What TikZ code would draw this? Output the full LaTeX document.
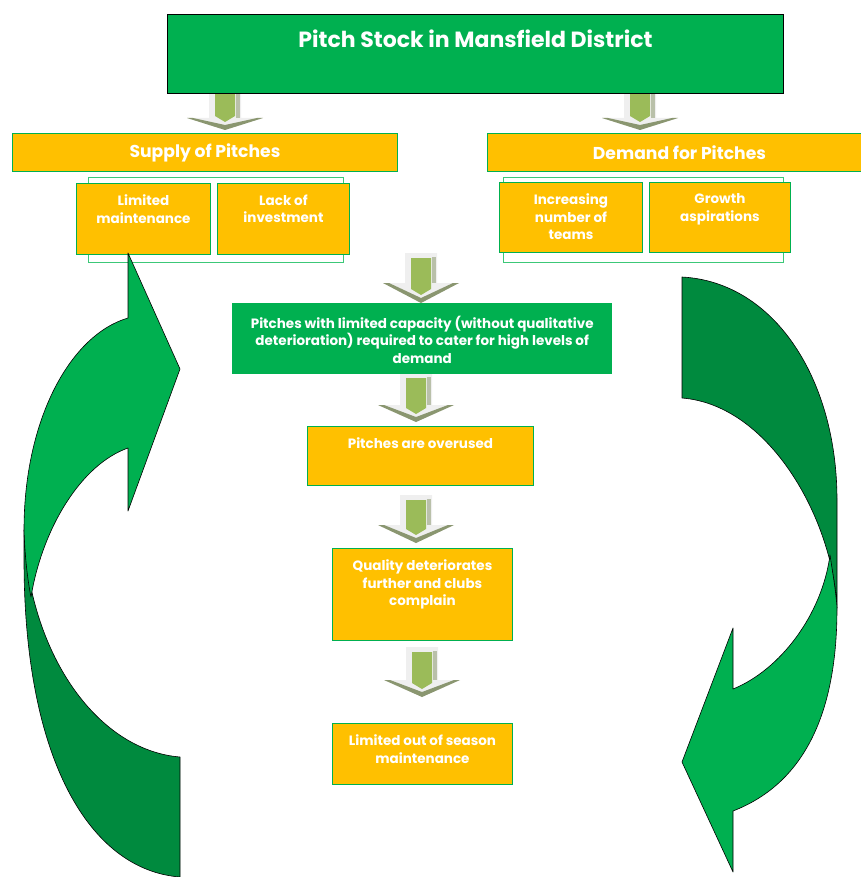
\documentclass[tikz,border=0pt]{standalone}
\usepackage{fontspec}
\setmainfont{Poppins}

\definecolor{pitchgreen}{HTML}{00B050}
\definecolor{darkgreen}{HTML}{008A3E}
\definecolor{pitchorange}{HTML}{FFC000}
\definecolor{framegreen}{HTML}{3CC878}
\definecolor{shaftgreen}{HTML}{9BBB59}
\definecolor{shadeolive}{HTML}{8A9670}
\definecolor{arrowgrey}{HTML}{EFEFEF}

\tikzset{
  orangebox/.style={draw=pitchgreen, line width=0.9pt, fill=pitchorange, anchor=north west, inner sep=0pt},
  greenbox/.style={fill=pitchgreen, anchor=north west, inner sep=0pt},
  groupframe/.style={draw=framegreen, line width=0.9pt, fill=white, anchor=north west, inner sep=0pt},
  boxtext/.style={anchor=north, inner sep=0pt, yshift=-11.5pt, text=white, align=center,
    font=\bfseries\fontsize{13.5}{17.5}\selectfont},
  headtext/.style={text=white, font=\bfseries\fontsize{17.2}{20}\selectfont},
  curvearrow/.style={draw=black, line width=0.6pt, line join=round},
}

\begin{document}
\begin{tikzpicture}[x=1pt,y=-1pt]
\useasboundingbox (0,0) rectangle (860,877);

% block arrows down the chain
\foreach \cx/\ya/\yh/\yb in {225/80/118/130, 640/80/118/130, 421/253/283/303,
                            416/373/405/422, 416/495/525/543, 422/647/680/697} {
  \fill[arrowgrey] (\cx-16,\ya) -- (\cx+16,\ya) -- (\cx+16,\yh) -- (\cx+38,\yh)
    -- (\cx,\yb) -- (\cx-38,\yh) -- (\cx-16,\yh) -- cycle;
  \fill[shadeolive] (\cx-38,\yh) -- (\cx,\yb) -- (\cx+38,\yh) -- (\cx+32,\yh)
    -- (\cx,\yb-5) -- (\cx-32,\yh) -- cycle;
  \fill[shadeolive!60] (\cx+11,\ya+4) rectangle (\cx+15,\yh);
  \fill[shaftgreen] (\cx-10,\ya+5) -- (\cx+10,\ya+5) -- (\cx+10,\yb-14)
    -- (\cx,\yb-8) -- (\cx-10,\yb-14) -- cycle;
}

% top
\node[greenbox, draw=black, line width=0.9pt, minimum width=616pt, minimum height=79pt,
  label={[boxtext, yshift=-4.5pt, font=\bfseries\fontsize{22}{26}\selectfont]north:Pitch Stock in Mansfield District}]
  (stock) at (167,14) {};

% supply side
\node[orangebox, minimum width=385pt, minimum height=38pt, headtext] (supply) at (12,133) {Supply of Pitches};
\node[groupframe, minimum width=255pt, minimum height=85pt] (supplyframe) at (88,177) {};
\node[orangebox, minimum width=134pt, minimum height=71pt,
  label={[boxtext]north:Limited\\maintenance}] (maint) at (76,183) {};
\node[orangebox, minimum width=132pt, minimum height=71pt,
  label={[boxtext]north:Lack of\\investment}] (invest) at (217,183) {};

% demand side
\node[orangebox, minimum width=384pt, minimum height=38pt, headtext] (demand) at (487,133) {Demand for Pitches};
\node[groupframe, minimum width=280pt, minimum height=85pt] (demandframe) at (503,177) {};
\node[orangebox, minimum width=143pt, minimum height=70pt,
  label={[boxtext]north:Increasing\\number of\\teams}] (teams) at (499,182) {};
\node[orangebox, minimum width=141pt, minimum height=70pt,
  label={[boxtext]north:Growth\\aspirations}] (growth) at (649,182) {};

% middle chain
\node[greenbox, minimum width=380pt, minimum height=71pt,
  label={[boxtext, yshift=-1pt]north:Pitches with limited capacity (without qualitative\\deterioration) required to cater for high levels of\\demand}]
  (capacity) at (232,303) {};
\node[orangebox, minimum width=226pt, minimum height=59pt,
  label={[boxtext]north:Pitches are overused}] (overused) at (307,426) {};
\node[orangebox, minimum width=180pt, minimum height=92pt,
  label={[boxtext]north:Quality deteriorates\\further and clubs\\complain}] (quality) at (332,548) {};
\node[orangebox, minimum width=180pt, minimum height=61pt,
  label={[boxtext]north:Limited out of season\\maintenance}] (offseason) at (332,723) {};

% left loop arrow, back then front
\path[curvearrow, fill=darkgreen] (180,877) .. controls (90,870) and (24,760) .. (24,560)
  -- (24,530) .. controls (28,650) and (95,750) .. (180,757) -- cycle;
\path[curvearrow, fill=pitchgreen] (128,318) .. controls (70,335) and (24,420) .. (24,530)
  .. controls (25,560) and (28,582) .. (31,597)
  .. controls (42,530) and (80,465) .. (128,448)
  -- (128,511) -- (180,369) -- (128,253) -- cycle;

% right loop arrow, back then front
\path[curvearrow, fill=darkgreen] (682,277) .. controls (775,282) and (837,380) .. (837,500)
  -- (837,608) .. controls (833,520) and (770,405) .. (682,398) -- cycle;
\path[curvearrow, fill=pitchgreen] (837,608) .. controls (837,720) and (800,785) .. (733,811)
  -- (733,872) -- (682,762) -- (733,628) -- (733,689)
  .. controls (780,670) and (822,615) .. (830,555)
  .. controls (833,575) and (836,592) .. (837,608) -- cycle;
\end{tikzpicture}
\end{document}
